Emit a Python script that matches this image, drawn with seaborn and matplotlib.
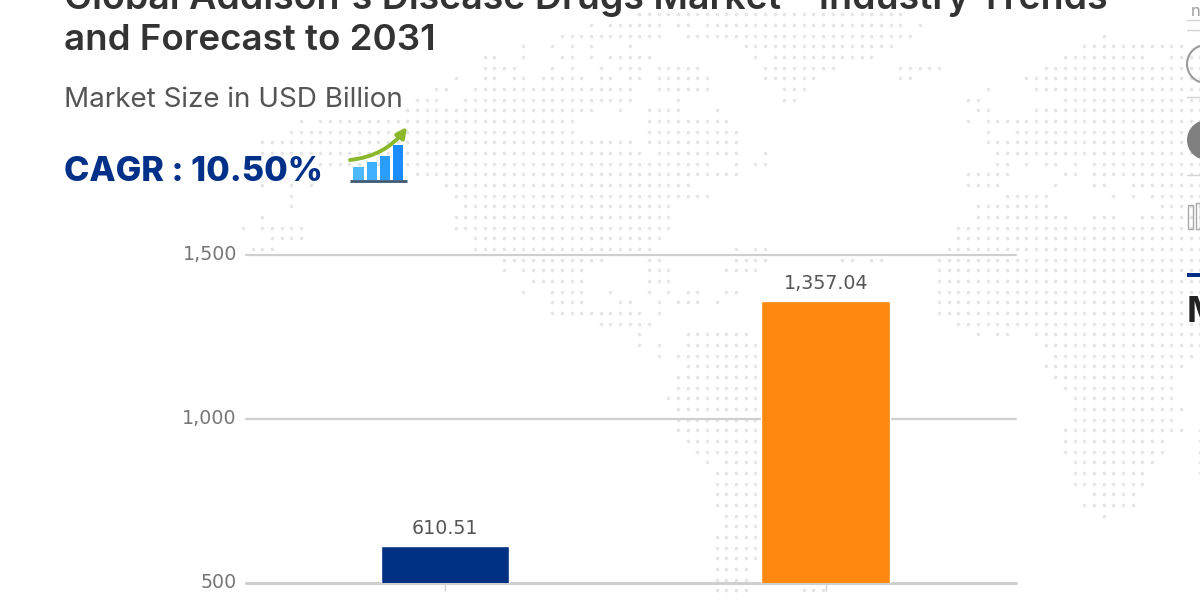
import matplotlib
matplotlib.use("Agg")
import matplotlib.pyplot as plt
from matplotlib.patches import Rectangle, Circle, FancyArrowPatch
import pandas as pd
import seaborn as sns

# Chart data
years = ["2023", "2031"]
market_size = [610.51, 1357.04]
value_labels = ["610.51", "1,357.04"]
bar_colors = ["#003082", "#FF8811"]
y_ticks = [500, 1000, 1500]
y_tick_labels = ["500", "1,000", "1,500"]

title_lines = ["Global Addison's Disease Drugs Market \u2013 Industry Trends",
               "and Forecast to 2031"]
subtitle = "Market Size in USD Billion"
cagr_text = "CAGR : 10.50%"

# Dotted world-map backdrop: for each grid row, runs of occupied grid columns
map_rows = {
    0: [(14, 41)],
    1: [(9, 9), (11, 16), (18, 19), (21, 41), (43, 43)],
    2: [(6, 16), (19, 42), (62, 62)],
    3: [(2, 2), (5, 5), (7, 7), (9, 9), (13, 13), (25, 40), (60, 70)],
    4: [(-2, -1), (2, 2), (6, 7), (9, 9), (11, 15), (26, 26), (28, 38), (58, 66), (69, 72)],
    5: [(-2, 1), (5, 5), (7, 7), (10, 10), (12, 14), (16, 20), (27, 34), (41, 45), (56, 72)],
    6: [(-5, -5), (-2, -1), (1, 2), (4, 8), (10, 11), (13, 14), (16, 21), (27, 32), (41, 42), (54, 72)],
    7: [(-7, -6), (-3, 13), (16, 21), (29, 31), (50, 50), (55, 72)],
    8: [(-9, -7), (-4, 13), (18, 18), (29, 30), (48, 49), (58, 72)],
    9: [(-10, 9), (12, 12), (15, 18), (22, 22), (49, 50), (55, 72)],
    10: [(-21, -21), (-19, 7), (15, 23), (48, 48), (50, 72)],
    11: [(-22, 7), (15, 24), (50, 50), (53, 72)],
    12: [(-25, 13), (15, 24), (50, 72)],
    13: [(-25, 14), (16, 24), (27, 27), (51, 72)],
    14: [(-19, 21), (24, 24), (26, 27), (51, 52), (54, 54), (56, 57), (59, 59), (61, 72)],
    15: [(-9, 24), (48, 52), (58, 59), (61, 72)],
    16: [(-25, -25), (-22, -22), (-20, -20), (-6, 19), (48, 51), (57, 57), (61, 62), (65, 72)],
    17: [(-22, -22), (-5, 21), (52, 56), (63, 63), (65, 65), (67, 72)],
    18: [(-22, -22), (-4, 17), (49, 56), (68, 72)],
    19: [(-25, -25), (-5, 17), (49, 58), (61, 63), (66, 72)],
    20: [(-27, -27), (-25, -21), (-5, 17), (47, 72)],
    21: [(-24, -21), (-3, 16), (47, 72)],
    22: [(-26, -24), (-3, 15), (24, 24), (26, 27), (46, 72)],
    23: [(0, 10), (15, 16), (24, 27), (35, 36), (38, 39), (45, 72)],
    24: [(0, 0), (2, 8), (15, 17), (23, 26), (45, 72)],
    25: [(3, 8), (15, 17), (45, 72)],
    26: [(2, 2), (5, 8), (11, 11), (15, 15), (17, 17), (19, 20), (23, 24), (45, 72)],
    27: [(5, 8), (12, 13), (16, 16), (18, 20), (22, 22), (45, 72)],
    28: [(5, 14), (16, 16), (45, 72)],
    29: [(10, 15), (47, 72)],
    30: [(14, 14), (19, 25), (49, 49), (51, 52), (55, 72)],
    31: [(14, 14), (16, 16), (19, 26), (56, 72)],
    32: [(16, 16), (18, 26), (57, 71)],
    33: [(19, 26), (56, 70)],
    34: [(18, 26), (57, 69)],
    35: [(18, 26), (58, 69)],
    36: [(17, 26), (59, 69)],
    37: [(18, 26), (59, 70)],
    38: [(18, 26), (59, 69)],
    39: [(18, 26), (58, 70), (72, 72)],
    40: [(19, 26), (58, 68), (72, 72)],
    41: [(20, 26), (58, 68), (72, 72)],
    42: [(21, 21), (23, 26), (59, 67), (72, 72)],
    43: [(22, 26), (59, 66), (72, 72)],
    44: [(22, 26), (59, 66)],
    45: [(22, 26), (61, 65)],
    46: [(22, 26), (60, 65)],
    47: [(23, 26), (62, 62)],
    48: [(23, 26)],
    49: [(22, 26)],
    50: [(22, 26)],
    51: [(22, 26)],
    52: [(22, 25)],
    53: [(22, 25)],
    54: [(22, 25), (31, 33)],
    55: [(22, 24)],
}

sns.set_theme(style="white")
plt.rcParams["font.family"] = ["DejaVu Sans"]

fig = plt.figure(figsize=(12, 6), dpi=100, facecolor="white")

# Backdrop layer in pixel coordinates
bg = fig.add_axes([0, 0, 1, 1], zorder=0)
bg.set_xlim(0, 1200)
bg.set_ylim(600, 0)
bg.axis("off")

dot_x, dot_y = [], []
for row, runs in map_rows.items():
    for start, end in runs:
        for col in range(start, end + 1):
            dot_x.append(504 + 9.67 * col)
            dot_y.append(14.3 + 10.67 * row)
bg.scatter(dot_x, dot_y, s=7, marker="o", color="#e6e6e6", linewidths=0)

# Chart
ax = fig.add_axes([246 / 1200, (600 - 582.5) / 600, 770 / 1200, 328 / 600], zorder=1)
ax.patch.set_alpha(0)
df = pd.DataFrame({"year": years, "size": market_size})
sns.barplot(data=df, x="year", y="size", hue="year", palette=bar_colors,
            legend=False, width=0.338, ax=ax, saturation=1, zorder=3)
ax.set_xlim(-0.523, 1.5)
ax.set_ylim(500, 1500)
ax.set_yticks(y_ticks, y_tick_labels)
ax.set_xticks(range(len(years)), ["", ""])
ax.set_xlabel("")
ax.set_ylabel("")
ax.grid(axis="y", color="#cfcfcf", lw=1.6, zorder=1)
ax.set_axisbelow(True)
sns.despine(ax=ax, left=True, top=True, right=True, bottom=True)
ax.tick_params(axis="y", length=0, pad=6.5, labelsize=13.7, labelcolor="#777777")
ax.tick_params(axis="x", bottom=True, length=6, width=1, color="#cfcfcf", pad=0)
for label in ax.get_yticklabels():
    label.set_verticalalignment("center")
for container, label in zip(ax.containers, value_labels):
    ax.bar_label(container, labels=[label], padding=6, fontsize=13.7, color="#555555")
for gl in ax.get_ygridlines():
    gl.set_clip_on(False)
ax.get_ygridlines()[0].set_linewidth(2.2)

# Heading text
tfont = ["Inter", "DejaVu Sans"]
fig_txt = dict(transform=bg.transData, ha="left", va="baseline", zorder=5)
bg.text(64, 9, title_lines[0], family=tfont, fontsize=27, fontweight=600, color="#333333", **fig_txt)
bg.text(64, 50, title_lines[1], family=tfont, fontsize=26.4, fontweight=600, color="#333333", **fig_txt)
bg.text(64, 107, subtitle, family=tfont, fontsize=20, fontweight=400, color="#555555", **fig_txt)
bg.text(64, 181, cagr_text, family=tfont, fontsize=24.6, fontweight=800, color="#003087", **fig_txt)

# Growth icon
icon_bars = [(353, 364, 167, "#4db8ff"), (367, 377, 162, "#3fb0ff"),
             (380, 390, 156, "#2a9dff"), (393, 403, 145, "#1a8cff")]
for x0, x1, top, c in icon_bars:
    bg.add_patch(Rectangle((x0, top), x1 - x0, 180 - top, color=c, lw=0))
bg.plot([350, 407], [180.5, 180.5], color="#3a5a78", lw=2, solid_capstyle="butt")
bg.add_patch(FancyArrowPatch((350, 160), (407, 127), connectionstyle="arc3,rad=0.22",
                             arrowstyle="-|>", mutation_scale=15, color="#8ab82a", lw=2.8,
                             shrinkA=0, shrinkB=0))

# Fragments of the page's side panel at the right edge
bg.add_patch(Circle((1206, 64), 19, fill=False, ec="#9a9a9a", lw=1.5))
bg.add_patch(Circle((1207, 140), 20, color="#808080", lw=0))
for y in (20, 30, 97, 175):
    bg.plot([1187, 1200], [y, y], color="#d4d4d4", lw=1)
bg.add_patch(Rectangle((1188, 205), 5, 24, fill=False, ec="#a8a8a8", lw=1))
bg.add_patch(Rectangle((1196, 203), 4, 26, fill=False, ec="#a8a8a8", lw=1))
bg.text(1191, 16, "n", fontsize=12, color="#a0a0a0", family=tfont, ha="left", va="baseline")
bg.add_patch(Rectangle((1187, 273), 13, 3.5, color="#003087", lw=0))
bg.text(1187, 322, "M", family=tfont, fontsize=26, fontweight=700, color="#222222", ha="left", va="baseline")

fig.savefig("out.png", dpi=100)
